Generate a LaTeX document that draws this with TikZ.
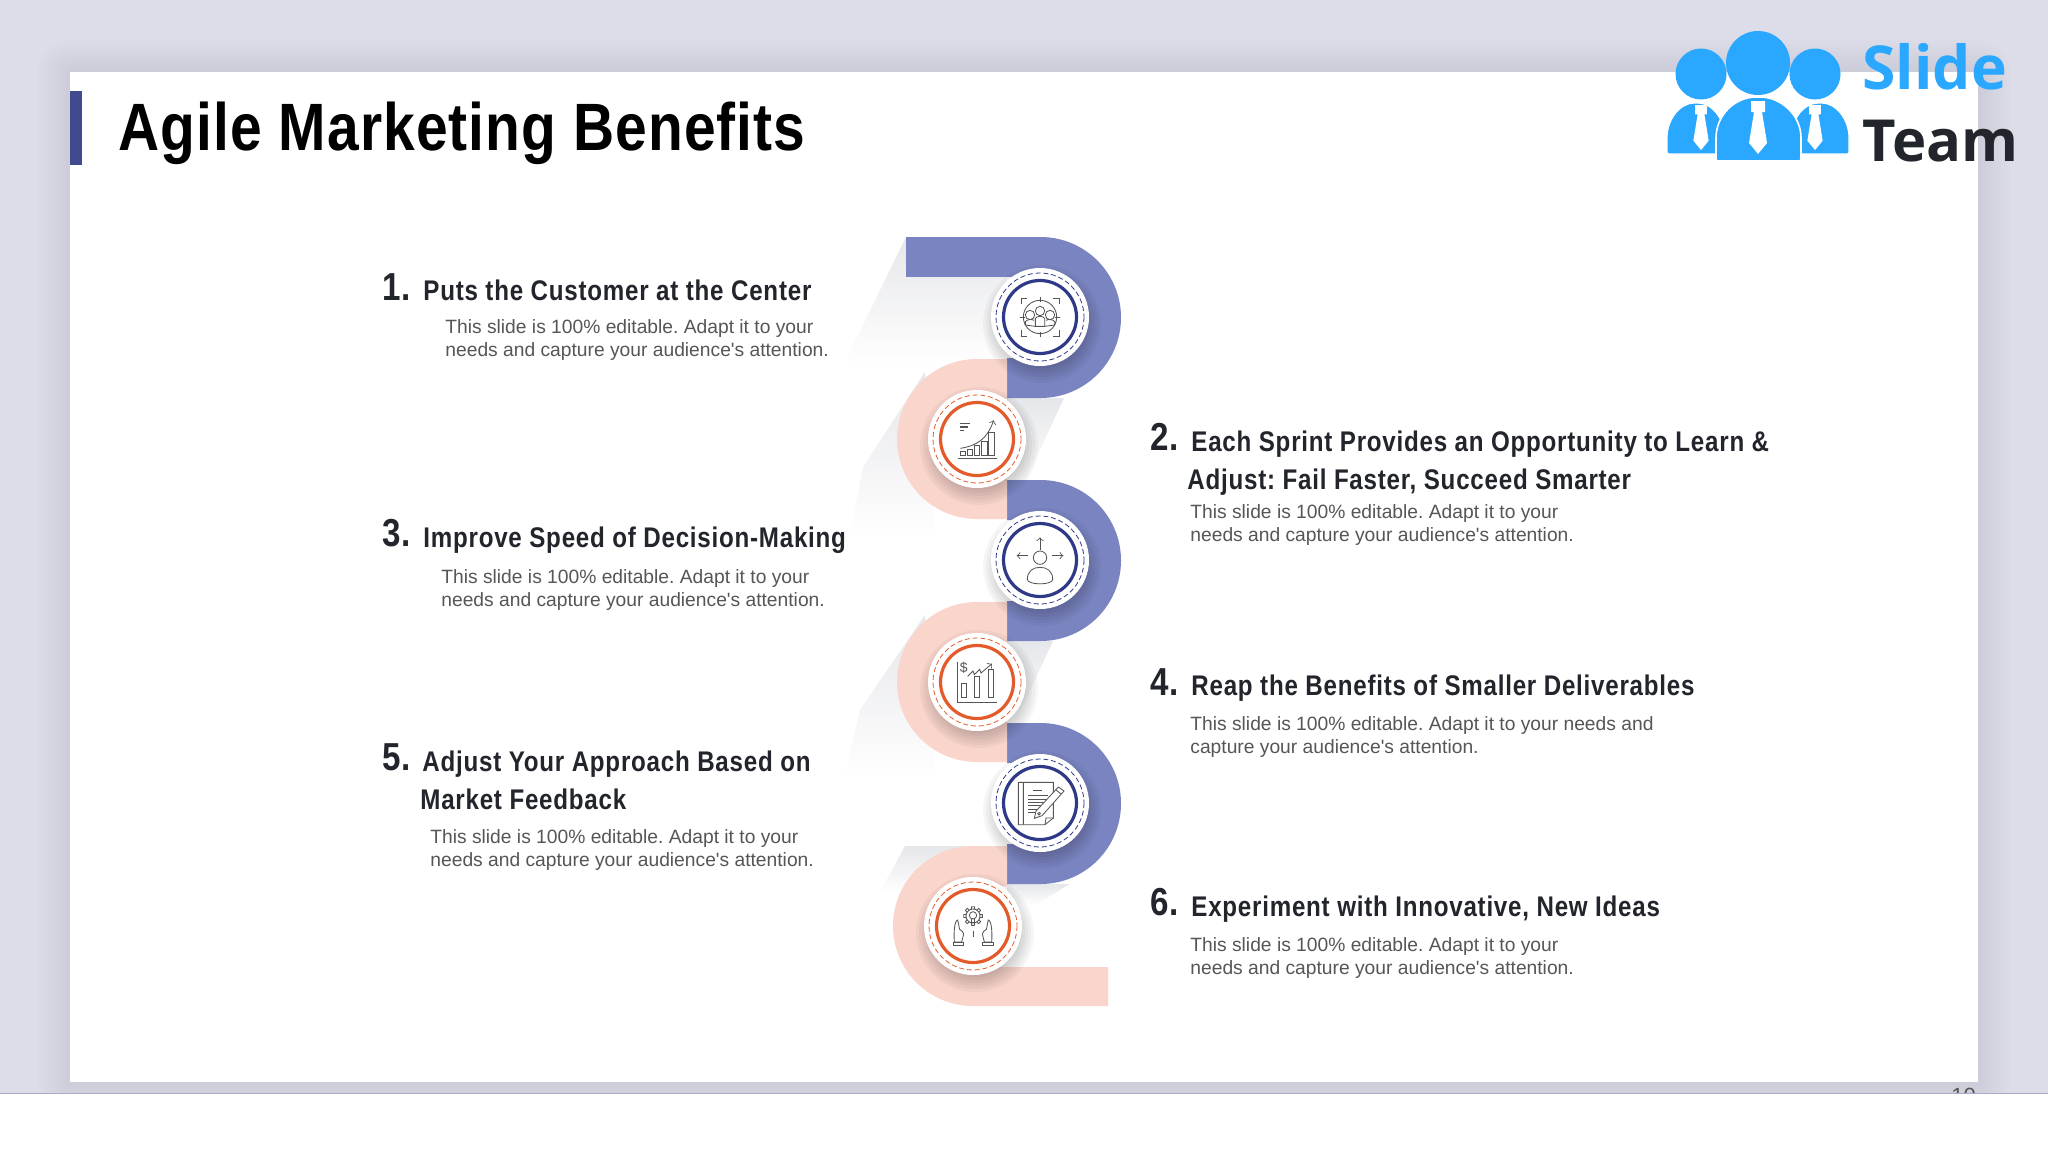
\documentclass[tikz,border=0pt]{standalone}
\usepackage{fontspec}
\usetikzlibrary{fadings}
\setmainfont{Liberation Sans}
\newfontfamily\headfont[FakeStretch=.85,LetterSpace=2.7]{Liberation Sans}
\newfontfamily\titlefont[FakeStretch=.85,LetterSpace=1.6]{Liberation Sans}
\newfontfamily\logofont{Open Sans}
\definecolor{pagegrey}{HTML}{DCDDE8}
\definecolor{bandblue}{HTML}{7A84C1}
\definecolor{bandpink}{HTML}{F9D5CC}
\definecolor{ringblue}{HTML}{2E3A87}
\definecolor{ringorange}{HTML}{E35B2A}
\definecolor{titleblue}{HTML}{3F4A8F}
\definecolor{headink}{HTML}{22252B}
\definecolor{bodyink}{HTML}{565656}
\definecolor{iconink}{HTML}{555555}
\definecolor{logoblue}{HTML}{2AA7FF}
\definecolor{softgrey}{HTML}{D5D7DC}
\tikzset{
  disc/.style={circle,fill=white,minimum size=49pt,inner sep=0pt},
  dashring/.style={line width=.4pt,dash pattern=on 2.5pt off 1.4pt},
  solidring/.style={line width=1.6pt},
  numtext/.style={anchor=base west,inner sep=0pt,text=headink,font=\headfont\bfseries\fontsize{19.5}{20}\selectfont},
  headtext/.style={anchor=base west,inner sep=0pt,text=headink,font=\headfont\bfseries\fontsize{14.2}{16}\selectfont},
  bodytext/.style={anchor=base west,inner sep=0pt,text=bodyink,font=\fontsize{9.62}{10}\selectfont},
  iconpen/.style={draw=iconink,line width=.42pt},
  shadeband/.style={fill=softgrey,fill opacity=.6}
}
\begin{document}
\frenchspacing
\begin{tikzpicture}[x=.5pt,y=-.5pt]
    \useasboundingbox (0,0) rectangle (2048,1152);
    \fill[pagegrey] (0,0) rectangle (2048,1152);
    \foreach \r in {4,8,...,32}
        \fill[black,opacity=.007,rounded corners=\r*.5pt] (70-\r,72-\r) rectangle (1978+\r,1082+\r);
    \node[anchor=base west,inner sep=0pt,text=iconink,font=\fontsize{11}{11}\selectfont] (pageno) at (1951,1103) {10};
    \fill[white] (0,1093) rectangle (2048,1152);
    \draw[color=pagegrey!70!ringblue,line width=.5pt] (0,1093) -- (2048,1093);
    \fill[white] (70,72) rectangle (1978,1082);
    \fill[titleblue] (70,91) rectangle (82,165);
    \node[anchor=base west,inner sep=0pt,text=black,font=\titlefont\bfseries\fontsize{33.5}{36}\selectfont] (title) at (118,150) {Agile Marketing Benefits};

    \fill[shadeband,path fading=south] (906,237) -- (906,277) -- (1007,277) -- (1007,362) -- (845,362) -- cycle;
    \fill[shadeband,path fading=south] (1007,398) -- (1064,398) -- (1025,482) -- (1007,482) -- cycle;
    \fill[shadeband,path fading=south] (925,372) -- (863,467) -- (850,535) -- (935,535) -- cycle;
    \fill[shadeband,path fading=south] (1007,641) -- (1053,641) -- (1015,723) -- (1007,723) -- cycle;
    \fill[shadeband,path fading=south] (925,615) -- (860,710) -- (845,775) -- (935,775) -- cycle;
    \fill[shadeband,path fading=south] (905,846) -- (975,846) -- (975,892) -- (880,892) -- cycle;
    \fill[shadeband,path fading=south] (1007,884) -- (1070,884) -- (1035,905) -- (1007,905) -- cycle;

    \foreach \y in {237,480,723}
        \fill[bandblue] (1007,\y+121) -- (1040.5,\y+121) arc (90:-90:40) -- (1007,\y+40) -- (1007,\y)
            -- (1040.5,\y) arc (-90:90:80.5) -- (1007,\y+161) -- cycle;
    \fill[bandblue] (906,237) rectangle (1041,277);
    \foreach \y in {359,602}
        \fill[bandpink] (1007,\y) -- (977,\y) arc (270:90:80) -- (1007,\y+160) -- (1007,\y+120)
            -- (977,\y+120) arc (90:270:40) -- (1007,\y+40) -- cycle;
    \fill[bandpink] (1007,846) -- (973,846) arc (270:90:80) -- (1108,1006) -- (1108,967)
        -- (973,967) arc (90:270:40) -- (1007,886) -- cycle;

    \foreach \i/\x/\y/\ringcolor in {1/1040/317/ringblue,2/977/439/ringorange,3/1040/560/ringblue,4/977/682/ringorange,5/1040/803/ringblue,6/973/926/ringorange} {
        \foreach \r in {38,41,...,59}
            \fill[black,opacity=.035] (\x+2,\y+7) circle (\r);
        \node[disc] (disc\i) at (\x,\y) {};
        \draw[dashring,\ringcolor] (disc\i.center) circle (44);
        \draw[solidring,\ringcolor] (disc\i.center) circle (36.5);
    }

    \begin{scope}[shift={(disc1.center)},x=.1667pt,y=-.1667pt,iconpen]
        \draw (0,0) circle (50);
        \foreach \a in {0,90,180,270}
            \draw[rotate=\a] (0,-60) -- (0,-44);
        \foreach \a in {0,90,180,270}
            \draw[rotate=\a] (-57,-40) -- (-57,-57) -- (-40,-57);
        \draw (0,-18) circle (14) (-30,-6) circle (14) (30,-6) circle (14);
        \draw (-14,28) -- (-14,4) .. controls (-8,-4) and (8,-4) .. (14,4) -- (14,28) -- cycle;
        \draw (-14,28) -- (-44,24) -- (-44,14) .. controls (-38,6) and (-24,6) .. (-18,10);
        \draw (14,28) -- (44,24) -- (44,14) .. controls (38,6) and (24,6) .. (18,10);
    \end{scope}
    \begin{scope}[shift={(disc2.center)},x=.1667pt,y=-.1667pt,iconpen]
        \draw (-58,58) -- (60,58);
        \foreach \l/\t/\r in {-50/38/-35,-30/30/-13,-8/18/8,13/6/30,35/-20/53}
            \draw (\l,\t) rectangle (\r,50);
        \draw[->] (-50,28) .. controls (0,20) and (30,0) .. (50,-56);
        \draw[line width=.7pt] (-50,-46) -- (-22,-46) (-50,-36) -- (-28,-36) (-50,-26) -- (-38,-26);
    \end{scope}
    \begin{scope}[shift={(disc3.center)},x=.1667pt,y=-.1667pt,iconpen]
        \draw (0,-7) circle (20);
        \draw (-38,58) .. controls (-38,32) and (-20,22) .. (0,22) .. controls (20,22) and (38,32) .. (38,58)
            .. controls (38,76) and (-38,76) .. (-38,58) -- cycle;
        \draw[->] (0,-30) -- (0,-68);
        \draw[->] (-35,-13) -- (-70,-13);
        \draw[->] (35,-13) -- (70,-13);
    \end{scope}
    \begin{scope}[shift={(disc4.center)},x=.1667pt,y=-.1667pt,iconpen]
        \draw (-60,-60) -- (-60,60) -- (60,60);
        \foreach \l/\t/\r in {-48/3/-32,-7/-17/7,35/-37/50}
            \draw (\l,\t) rectangle (\r,46);
        \node[inner sep=0pt,text=iconink,font=\fontsize{7}{7}\selectfont] (dollar) at (-40,-42) {\$};
        \draw[->] (-28,-17) -- (-12,-33) -- (-8,-22) -- (8,-38) -- (12,-27) -- (45,-55);
    \end{scope}
    \begin{scope}[shift={(disc5.center)},x=.1667pt,y=-.1667pt,iconpen]
        \draw (-65,-62) -- (40,-62) -- (40,45) -- (15,65) -- (-65,65) -- cycle;
        \draw (-50,-62) -- (-50,65) (40,45) -- (18,45) -- (15,65);
        \draw (-20,-38) -- (7,-38);
        \foreach \y/\r in {-22/25,-12/25,-2/22,8/12,18/2,28/-8}
            \draw (-35,\y) -- (\r,\y);
        \draw[fill=white] (-17,46) -- (-12,24) -- (55,-48) -- (72,-36) -- (6,38) -- cycle;
        \draw (-3,32) circle (4);
        \draw (47,-40) -- (62,-28);
    \end{scope}
    \begin{scope}[shift={(disc6.center)},x=.1667pt,y=-.1667pt,iconpen]
        \draw (0,-30) circle (21) (0,-32) circle (11);
        \foreach \a in {0,45,...,315}
            \draw[shift={(0,-30)},rotate=\a] (-5,-21) -- (-4,-28) -- (4,-28) -- (5,-21);
        \draw (-5,-22) -- (-5,-12) -- (5,-12) -- (5,-22);
        \draw[dashed] (0,14) -- (0,38);
        \foreach \s in {1,-1} {
            \begin{scope}[xscale=\s]
                \draw (-56,48) .. controls (-58,20) and (-56,-15) .. (-46,-18) .. controls (-42,-5) and (-42,5) .. (-40,10)
                    .. controls (-34,14) and (-28,18) .. (-28,24) -- (-34,48) -- cycle;
                \draw (-60,48) rectangle (-28,59);
            \end{scope}
        }
    \end{scope}

    \foreach \i/\x/\y in {1/382/300,2/1150/450,3/382/546,4/1150/695,5/382/770,6/1150/915}
        \node[numtext] (num\i) at (\x,\y) {\i.};
    \node[headtext] (head1) at (423,300) {Puts the Customer at the Center};
    \node[headtext] (head2) at (1191,451) {Each Sprint Provides an Opportunity to Learn \&};
    \node[headtext] (head2b) at (1187,489) {Adjust: Fail Faster, Succeed Smarter};
    \node[headtext] (head3) at (423,547) {Improve Speed of Decision-Making};
    \node[headtext] (head4) at (1191,695) {Reap the Benefits of Smaller Deliverables};
    \node[headtext] (head5) at (422,771) {Adjust Your Approach Based on};
    \node[headtext] (head5b) at (420,809) {Market Feedback};
    \node[headtext] (head6) at (1191,916) {Experiment with Innovative, New Ideas};
    \foreach \i/\x/\y in {1/445/333,2/1190/518,3/441/583,5/430/843,6/1190/951} {
        \node[bodytext] (body\i) at (\x,\y) {This slide is 100\% editable. Adapt it to your};
        \node[bodytext] (body\i b) at (\x,\y+23) {needs and capture your audience\textquotesingle s attention.};
    }
    \node[bodytext] (body4) at (1190,730) {This slide is 100\% editable. Adapt it to your needs and};
    \node[bodytext] (body4b) at (1190,753) {capture your audience\textquotesingle s attention.};

    \fill[logoblue] (1701,74) circle (25.5) (1815,74) circle (25.5) (1758,63) circle (32);
    \foreach \x in {1696,1820}
        \filldraw[fill=logoblue,draw=white,line width=.6pt,rounded corners=1pt] (\x-29,154) -- (\x-29,140)
            .. controls (\x-29,118) and (\x-15,103) .. (\x,103) .. controls (\x+15,103) and (\x+29,118) .. (\x+29,140)
            -- (\x+29,154) -- cycle;
    \filldraw[fill=logoblue,draw=white,line width=.8pt,rounded corners=1pt] (1716,161) -- (1716,140)
        .. controls (1716,115) and (1735,97) .. (1758,97) .. controls (1781,97) and (1801,115) .. (1801,140)
        -- (1801,161) -- cycle;
    \foreach \x/\t/\s in {1758/101/1,1701/105/.85,1815/105/.85}
        \fill[white,shift={(\x,\t)},xscale=\s,yscale=\s] (-7,0) -- (7,0) -- (7,11) -- (4,11) -- (9,42) -- (0,53) -- (-9,42) -- (-4,11) -- (-7,11) -- cycle;
    \node[anchor=base west,inner sep=0pt,text=logoblue,font=\logofont\bfseries\fontsize{30.3}{32}\selectfont] (logoslide) at (1862,89) {Slide};
    \node[anchor=base west,inner sep=0pt,text=headink,font=\logofont\bfseries\fontsize{29}{30}\selectfont] (logoteam) at (1862,161) {Team};
\end{tikzpicture}
\end{document}
